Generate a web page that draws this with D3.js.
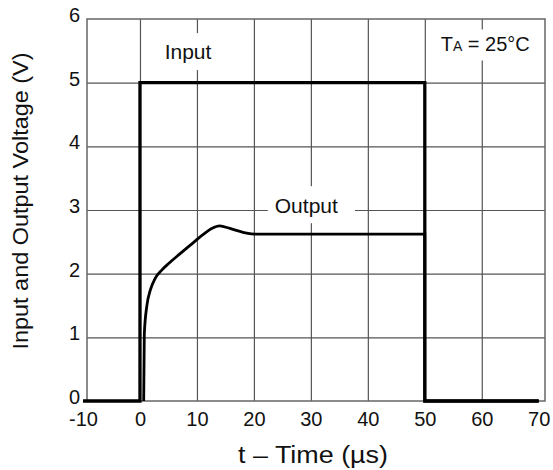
<!DOCTYPE html>
<html lang="en">
  <head>
    <meta charset="UTF-8" />
    <script src="https://d3js.org/d3.v7.min.js"></script>
    <title>Input and Output Voltage vs Time</title>
    <style>
      body { margin: 0; background: #fff; }
      text { font-family: "Liberation Sans", Arial, sans-serif; fill: #111; }
    </style>
  </head>
  <body>
    <div id="chart"></div>
    <script>

    // tick labels
    var xTicks = [-10, 0, 10, 20, 30, 40, 50, 60, 70];
    var yTicks = [0, 1, 2, 3, 4, 5, 6];

    // input step (t in us, volts)
    var inputT = [-10, 0, 0, 50, 50, 70];
    var inputV = [0, 0, 5, 5, 0, 0];

    // output rise
    var riseT = [0.65, 0.76, 1.23, 1.81, 2.69, 3.86, 5.04, 7, 9, 11, 12.6, 14, 15.8, 18.1, 20.2];
    var riseV = [0, 1.05, 1.51, 1.74, 1.93, 2.06, 2.16, 2.31, 2.46, 2.61, 2.71, 2.75, 2.71, 2.65, 2.62];

    // output hold and drop
    var holdT = [20.2, 50, 50, 70];
    var holdV = [2.62, 2.62, 0, 0];

    var W = 553, H = 470;
    var pLeft = 87, pRight = 545, pTop = 19, pBottom = 401;

    var svg = d3.select("#chart")
      .append("svg")
        .attr("width", W)
        .attr("height", H);

    var x = d3.scaleLinear().domain([-9.3, 71.1]).range([pLeft, pRight]);
    var y = d3.scaleLinear().domain([0, 6]).range([pBottom, pTop]);

    function pts(ts, vs) { return ts.map(function(t, i) { return [t, vs[i]]; }); }
    function plain(d) { return String(d); }   // keep the ascii hyphen on -10

    // grid lines (inside ticks only, the frame does the edges)
    svg.append("g")
      .attr("transform", "translate(0," + pBottom + ")")
      .call(d3.axisBottom(x).tickValues(xTicks.slice(1, -1)).tickSize(-(pBottom - pTop)).tickFormat(""))
      .call(function(g) { g.select(".domain").remove(); })
      .selectAll("line").attr("stroke", "#555").attr("stroke-width", 1.2);

    svg.append("g")
      .attr("transform", "translate(" + pLeft + ",0)")
      .call(d3.axisLeft(y).tickValues(yTicks.slice(1, -1)).tickSize(-(pRight - pLeft)).tickFormat(""))
      .call(function(g) { g.select(".domain").remove(); })
      .selectAll("line").attr("stroke", "#555").attr("stroke-width", 1.2);

    // frame
    svg.append("rect")
      .attr("x", pLeft).attr("y", pTop)
      .attr("width", pRight - pLeft).attr("height", pBottom - pTop)
      .attr("fill", "none").attr("stroke", "#666").attr("stroke-width", 1.5);

    // tick labels
    var xAxis = svg.append("g")
      .attr("transform", "translate(0," + pBottom + ")")
      .call(d3.axisBottom(x).tickValues(xTicks).tickFormat(plain).tickSize(0).tickPadding(11));
    xAxis.select(".domain").remove();
    xAxis.selectAll("text").style("font-size", "20px").attr("fill", "#111")
      .style("font-family", "'Liberation Sans', Arial, sans-serif");

    var yAxis = svg.append("g")
      .attr("transform", "translate(" + pLeft + ",0)")
      .call(d3.axisLeft(y).tickValues(yTicks).tickFormat(plain).tickSize(0).tickPadding(7));
    yAxis.select(".domain").remove();
    yAxis.selectAll("text").style("font-size", "20px").attr("fill", "#111").attr("dy", "0.13em")
      .style("font-family", "'Liberation Sans', Arial, sans-serif");

    // labels with a white patch that breaks the grid behind them
    function label(t, v, anchor, pad) {
      var g = svg.append("g");
      var txt = g.append("text")
        .attr("x", x(t)).attr("y", y(v))
        .attr("text-anchor", anchor)
        .style("font-size", "21px");
      return { g: g, txt: txt, pad: pad };
    }
    function patch(l) {
      var b = l.txt.node().getBBox();
      l.g.insert("rect", "text")
        .attr("x", b.x - l.pad[0]).attr("y", b.y - l.pad[1])
        .attr("width", b.width + l.pad[0] + l.pad[2])
        .attr("height", b.height + l.pad[1] + l.pad[3])
        .attr("fill", "#fff");
    }

    var inLab = label(8.43, 5.37, "middle", [4, 7, 4, 7]);
    inLab.txt.text("Input");
    patch(inLab);

    var outLab = label(29.2, 2.95, "middle", [7, 8, 17, 6]);
    outLab.txt.text("Output");
    patch(outLab);

    var taLab = label(52.8, 5.49, "start", [4, 4, 4, 5]);
    taLab.txt.style("font-size", "20px");
    taLab.txt.append("tspan").text("T");
    taLab.txt.append("tspan").style("font-size", "14px").text("A");
    taLab.txt.append("tspan").text(" = 25°C");
    patch(taLab);

    // traces
    var line = d3.line().x(function(d) { return x(d[0]); }).y(function(d) { return y(d[1]); });

    svg.append("path")
      .datum(pts(inputT, inputV))
      .attr("fill", "none").attr("stroke", "#000").attr("stroke-width", 3.3)
      .attr("d", line);

    svg.append("path")
      .datum(pts(holdT, holdV))
      .attr("fill", "none").attr("stroke", "#000").attr("stroke-width", 2.8)
      .attr("d", line);

    svg.append("path")
      .datum(pts(riseT, riseV))
      .attr("fill", "none").attr("stroke", "#000").attr("stroke-width", 2.8)
      .attr("d", line.curve(d3.curveMonotoneX));

    // axis titles
    svg.append("text")
      .attr("x", (pLeft + pRight) / 2 - 3)
      .attr("y", 463)
      .attr("text-anchor", "middle")
      .attr("textLength", 150).attr("lengthAdjust", "spacingAndGlyphs")
      .style("font-size", "23px")
      .text("t – Time (µs)");

    svg.append("text")
      .attr("transform", "translate(28,201) rotate(-90)")
      .attr("text-anchor", "middle")
      .attr("textLength", 297).attr("lengthAdjust", "spacingAndGlyphs")
      .style("font-size", "22px")
      .text("Input and Output Voltage (V)");

    </script>
  </body>
</html>
